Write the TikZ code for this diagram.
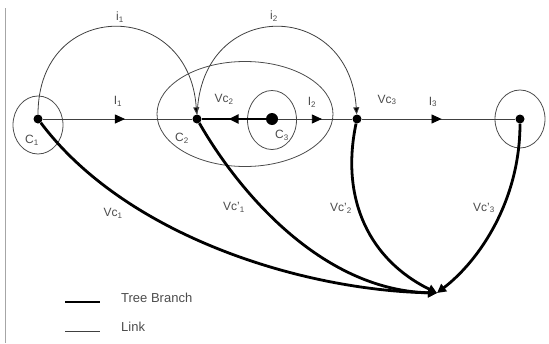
\documentclass[tikz,border=0pt]{standalone}
\usepackage{fontspec}
\setmainfont{Liberation Sans}
\usetikzlibrary{arrows.meta,decorations.markings,shapes.geometric}

\begin{document}
\begin{tikzpicture}[x=1pt,y=-1pt]
		\tikzset{
			basefont/.style = {font = \fontsize{12}{14}\selectfont, text = black!70},
			label/.style = {basefont, inner sep = 0pt},
			legendtext/.style = {label, font = \fontsize{13}{15}\selectfont, anchor = west},
			vertex/.style = {circle, fill = black, inner sep = 0pt, minimum size = 9pt},
			bigvertex/.style = {vertex, minimum size = 12pt},
			cluster/.style = {ellipse, draw = black!70, line width = 0.8pt, inner sep = 0pt},
			link/.style = {draw = black!75, line width = 0.8pt},
			branch/.style = {draw = black, line width = 2.8pt},
			linktip/.style = {-{Triangle[length = 7pt, width = 6pt, fill = black]}},
			branchtip/.style = {-{Triangle[length = 9pt, width = 9pt]}},
			midarrow/.style = {postaction = decorate, decoration = {markings,
				mark = at position #1 with {\arrow[black]{Triangle[length = 10pt, width = 9pt]}}}},
		};
		\useasboundingbox (0,0) rectangle (549,343);
		\draw[black!35, line width = 0.8pt] (5,8) -- (5,343);

		% clusters
		\node[cluster, minimum width = 50pt, minimum height = 58pt] (clu1) at (38,125) {};
		\node[cluster, minimum width = 176pt, minimum height = 105pt] (clu2) at (245,114) {};
		\node[cluster, minimum width = 49pt, minimum height = 59pt] (clu3) at (272,120) {};
		\node[cluster, minimum width = 50pt, minimum height = 58pt] (clu5) at (520,119) {};

		% vertices
		\node[vertex] (v1) at (38,119) {};
		\node[vertex] (v2) at (197,119) {};
		\node[bigvertex] (v3) at (272,119) {};
		\node[vertex] (v4) at (357,119) {};
		\node[vertex] (v5) at (520,119) {};
		\coordinate (sink) at (437,293);

		% links
		\draw[link, midarrow = 0.55] (v1) -- (v2);
		\draw[link, midarrow = 0.59] (v3) -- (v4);
		\draw[link, midarrow = 0.52] (v4) -- (v5);
		\draw[link, linktip] (v1) .. controls +(0,-121) and +(-8,-121) .. (v2);
		\draw[link, linktip] (v2) .. controls +(4,-121) and +(-8,-121) .. (v4);

		% tree branches
		\draw[branch, midarrow = 0.58] (v3) -- (v2);
		\draw[branch, branchtip] (v1) .. controls (125,235) and (300,290) .. (sink);
		\draw[branch, branchtip] (v2) .. controls (237,189) and (320,290) .. (sink);
		\draw[branch, branchtip] (v4) .. controls (340,200) and (370,260) .. (sink);
		\draw[branch, branchtip] (v5) .. controls (520,200) and (480,260) .. (sink);

		% labels
		\node[label] (lab-i1) at (120,17) {i\textsubscript{1}};
		\node[label] (lab-i2) at (274,16) {i\textsubscript{2}};
		\node[label] (lab-I1) at (118,101) {I\textsubscript{1}};
		\node[label] (lab-I2) at (312,102) {I\textsubscript{2}};
		\node[label] (lab-I3) at (433,102) {I\textsubscript{3}};
		\node[label] (lab-Vc2) at (224,99) {Vc\textsubscript{2}};
		\node[label] (lab-Vc3) at (387,100) {Vc\textsubscript{3}};
		\node[label] (lab-C1) at (32,140) {C\textsubscript{1}};
		\node[label] (lab-C2) at (182,138) {C\textsubscript{2}};
		\node[label] (lab-C3) at (282,135) {C\textsubscript{3}};
		\node[label] (lab-Vc1) at (113,213) {Vc\textsubscript{1}};
		\node[label] (lab-Vcp1) at (234,207) {Vc'\textsubscript{1}};
		\node[label] (lab-Vcp2) at (341,208) {Vc'\textsubscript{2}};
		\node[label] (lab-Vcp3) at (484,208) {Vc'\textsubscript{3}};

		% legend
		\draw[branch] (65,302) -- (100,302);
		\draw[link] (65,331) -- (100,331);
		\node[legendtext] (leg-tree) at (121,298) {Tree Branch};
		\node[legendtext] (leg-link) at (121,327) {Link};
	\end{tikzpicture}
\end{document}
